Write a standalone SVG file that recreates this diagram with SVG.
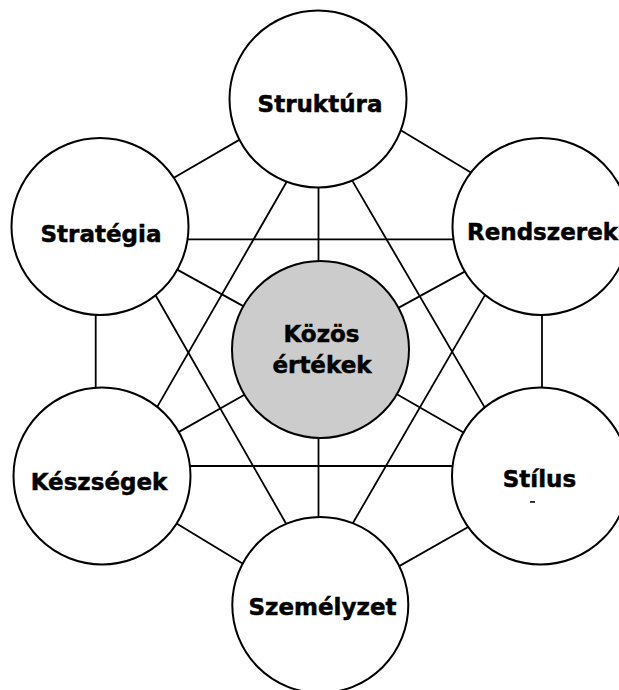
<svg xmlns="http://www.w3.org/2000/svg" width="619" height="690" viewBox="0 0 619 690">
  <style>
    .edge { stroke: #000; stroke-width: 1.8; fill: none; }
    .node { fill: #fff; stroke: #000; stroke-width: 2; }
    .core { fill: #cccccc; stroke: #000; stroke-width: 2; }
    .label { font-family: "DejaVu Sans", Verdana, sans-serif; font-weight: bold; font-size: 23px; fill: #000; stroke: #000; stroke-width: 0.5; text-anchor: middle; }
  </style>
  <rect width="619" height="690" fill="#fff"/>

  <!-- connectors (drawn first; node circles cover their ends) -->
  <g id="connectors">
    <line class="edge" x1="170" y1="180" x2="250" y2="133.6"/>
    <line class="edge" x1="395" y1="126.7" x2="480" y2="178"/>
    <line class="edge" x1="318.5" y1="180" x2="318.5" y2="270"/>
    <line class="edge" x1="318.5" y1="430" x2="318.5" y2="525"/>
    <line class="edge" x1="291" y1="174.3" x2="152.3" y2="415.4"/>
    <line class="edge" x1="348" y1="173.4" x2="488.3" y2="413.6"/>
    <line class="edge" x1="180" y1="239.3" x2="460" y2="239.3"/>
    <line class="edge" x1="170" y1="265.6" x2="250" y2="309.9"/>
    <line class="edge" x1="95.7" y1="305" x2="95.7" y2="395"/>
    <line class="edge" x1="151" y1="287.3" x2="290.7" y2="531.7"/>
    <line class="edge" x1="472" y1="267.6" x2="392" y2="311.4"/>
    <line class="edge" x1="542" y1="305" x2="542" y2="395"/>
    <line class="edge" x1="490" y1="286.4" x2="348.3" y2="531"/>
    <line class="edge" x1="171" y1="436.4" x2="252" y2="390.5"/>
    <line class="edge" x1="185" y1="466" x2="460" y2="466"/>
    <line class="edge" x1="170" y1="519.6" x2="252" y2="569.3"/>
    <line class="edge" x1="390" y1="390.2" x2="470" y2="436.3"/>
    <line class="edge" x1="473" y1="524.2" x2="390" y2="571.4"/>
  </g>

  <g id="struktura">
    <circle class="node" cx="318" cy="99" r="88.5"/>
    <text class="label" x="320" y="112">Struktúra</text>
  </g>
  <g id="strategia">
    <circle class="node" cx="100" cy="226.5" r="88.5"/>
    <text class="label" x="101" y="242">Stratégia</text>
  </g>
  <g id="rendszerek">
    <circle class="node" cx="541" cy="226.5" r="88.5"/>
    <text class="label" x="542.5" y="240">Rendszerek</text>
  </g>
  <g id="kozos-ertekek">
    <circle class="core" cx="320.5" cy="349.5" r="88.5"/>
    <text class="label" x="321.5" y="342">Közös</text>
    <text class="label" x="322" y="373">értékek</text>
  </g>
  <g id="keszsegek">
    <circle class="node" cx="102" cy="476" r="88.5"/>
    <text class="label" x="99" y="490">Készségek</text>
  </g>
  <g id="stilus">
    <circle class="node" cx="540.5" cy="476" r="88.5"/>
    <text class="label" x="539.5" y="487">Stílus</text>
    <rect x="530" y="501" width="5" height="1.8" fill="#222"/>
  </g>
  <g id="szemelyzet">
    <circle class="node" cx="320.3" cy="605" r="88"/>
    <text class="label" x="322.5" y="615">Személyzet</text>
  </g>
</svg>
